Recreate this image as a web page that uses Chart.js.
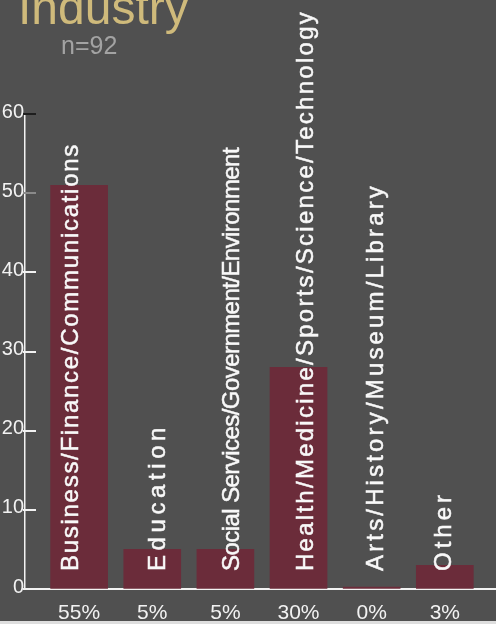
<!DOCTYPE html>
<html>
<head>
<meta charset="utf-8">
<title>Industry</title>
<script src="https://cdn.jsdelivr.net/npm/chart.js@4.4.1/dist/chart.umd.min.js"></script>
<style>
    html, body { margin: 0; padding: 0; background: #dedede; }
    #wrap { width: 496px; height: 621px; background: #505050; }
    canvas { display: block; }
</style>
</head>
<body>
<div id="wrap"><canvas id="industryChart" width="496" height="621"></canvas></div>
<script>
// survey answers, one bar per industry
var aIndustries = [
    'Business/Finance/Communications',
    'Education',
    'Social Services/Government/Environment',
    'Health/Medicine/Sports/Science/Technology',
    'Arts/History/Museum/Library',
    'Other'
];
var aCounts = [51, 5, 5, 28, 0, 3];
var aShares = ['55%', '5%', '5%', '30%', '0%', '3%'];
var aYTicks = [0, 10, 20, 30, 40, 50, 60];
var sTitle = 'Industry';
var sSubtitle = 'n=92';

var sFont = '"Liberation Sans", Arial, sans-serif';
var sWhite = '#f2f2f2';

// how long each rotated label runs up the chart (the original stretches them)
// and how far its baseline sits right of the bar centre
var aLabelSpan = [428, 148, 423, 561, 388, 80];
var aLabelNudge = [-1, 12.5, 13.5, 14, 11.5, 6.5];

var oHeaderText = {
    id: 'headerText',
    beforeDraw: function(chart) {
        var ctx = chart.ctx;
        ctx.save();
        ctx.textAlign = 'left';
        ctx.textBaseline = 'alphabetic';
        ctx.fillStyle = '#cfba7b';
        ctx.font = '48px ' + sFont;
        ctx.fillText(sTitle, 18, 24);
        ctx.fillStyle = '#a3a3a3';
        ctx.font = '25px ' + sFont;
        ctx.fillText(sSubtitle, 61, 54);
        ctx.restore();
    }
};

var oBarLabels = {
    id: 'barLabels',
    afterDatasetsDraw: function(chart) {
        var ctx = chart.ctx;
        var oMeta = chart.getDatasetMeta(0);
        var iBottom = chart.chartArea.bottom - 18;

        ctx.save();
        ctx.fillStyle = '#f8f8f8';
        ctx.strokeStyle = '#f8f8f8';
        ctx.lineWidth = 0.5;
        ctx.font = '24px ' + sFont;
        ctx.textAlign = 'left';
        ctx.textBaseline = 'alphabetic';
        oMeta.data.forEach(function(oBar, i) {
            var sText = aIndustries[i];
            ctx.letterSpacing = '0px';
            var fNatural = ctx.measureText(sText).width;
            var fSpacing = (aLabelSpan[i] - fNatural) / sText.length;
            ctx.letterSpacing = fSpacing + 'px';

            ctx.save();
            ctx.translate(oBar.x + aLabelNudge[i], iBottom);
            ctx.rotate(-Math.PI / 2);
            ctx.fillText(sText, 0, 0);
            ctx.strokeText(sText, 0, 0);
            ctx.restore();
        });
        ctx.restore();
    }
};

// tick marks point into the plot, not out of it
var oInnerTicks = {
    id: 'innerTicks',
    afterDraw: function(chart) {
        var ctx = chart.ctx;
        var oY = chart.scales.y;
        var iLeft = chart.chartArea.left;

        ctx.save();
        ctx.lineWidth = 2;
        aYTicks.forEach(function(v) {
            var y = Math.round(oY.getPixelForValue(v));
            ctx.strokeStyle = v == 60 ? '#1e1e1e' : (v == 50 ? '#8a8a8a' : sWhite);
            ctx.beginPath();
            ctx.moveTo(iLeft - 2, y);
            ctx.lineTo(iLeft + 11, y);
            ctx.stroke();
        });
        ctx.restore();
    }
};

var oChart = new Chart(document.getElementById('industryChart'), {
    type: 'bar',
    data: {
        datasets: [{
            label: sTitle,
            data: aCounts.map(function(v, i) { return {x: i, y: v}; }),
            backgroundColor: '#6b2c3a',
            barThickness: 57,
            minBarLength: 2
        }]
    },
    options: {
        responsive: false,
        animation: false,
        layout: {
            padding: {top: 114, left: 0, right: 0, bottom: 0}
        },
        plugins: {
            legend: {display: false},
            tooltip: {enabled: false}
        },
        scales: {
            x: {
                type: 'linear',
                offset: false,
                min: -0.74,
                max: 5.7,
                afterFit: function(oScale) { oScale.height = 32; },
                ticks: {
                    stepSize: 1,
                    includeBounds: false,
                    autoSkip: false,
                    maxRotation: 0,
                    padding: 12,
                    color: sWhite,
                    font: {family: sFont, size: 21},
                    callback: function(v) { return aShares[v] !== undefined ? aShares[v] : ''; }
                },
                grid: {display: true, drawOnChartArea: false, drawTicks: false},
                border: {color: sWhite, width: 2}
            },
            y: {
                min: 0,
                max: 60,
                afterFit: function(oScale) { oScale.width = 25; },
                afterBuildTicks: function(oScale) {
                    oScale.ticks = aYTicks.map(function(v) { return {value: v}; });
                },
                ticks: {
                    padding: 1,
                    labelOffset: -2,
                    color: sWhite,
                    font: {family: sFont, size: 20}
                },
                grid: {display: true, drawOnChartArea: false, drawTicks: false},
                border: {color: sWhite, width: 1.5}
            }
        }
    },
    plugins: [oHeaderText, oBarLabels, oInnerTicks]
});
</script>
</body>
</html>
